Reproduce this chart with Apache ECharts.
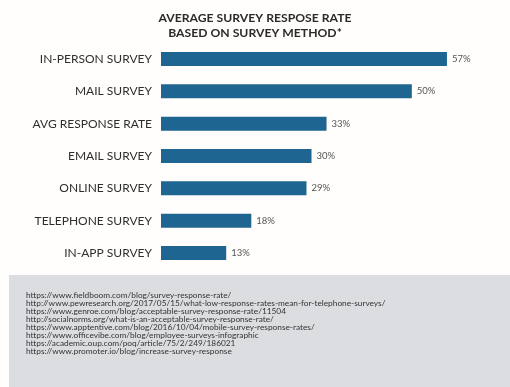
<!DOCTYPE html>
<html><head><meta charset="utf-8">
<script src="https://cdn.jsdelivr.net/npm/echarts@6/dist/echarts.min.js"></script>
<style>html,body{margin:0;padding:0;background:#fffefc;}#c{width:510px;height:387px;}</style>
</head><body><div id="c"></div>
<script>
const categories = ['IN-PERSON SURVEY','MAIL SURVEY','AVG RESPONSE RATE','EMAIL SURVEY','ONLINE SURVEY','TELEPHONE SURVEY','IN-APP SURVEY'];
const values = [57, 50, 33, 30, 29, 18, 13];
const titleLines = ['AVERAGE SURVEY RESPOSE RATE', 'BASED ON SURVEY METHOD*'];
const sources = [
 'https://www.fieldboom.com/blog/survey-response-rate/',
 'http://www.pewresearch.org/2017/05/15/what-low-response-rates-mean-for-telephone-surveys/',
 'https://www.genroe.com/blog/acceptable-survey-response-rate/11504',
 'http://socialnorms.org/what-is-an-acceptable-survey-response-rate/',
 'https://www.apptentive.com/blog/2016/10/04/mobile-survey-response-rates/',
 'https://www.officevibe.com/blog/employee-surveys-infographic',
 'https://academic.oup.com/poq/article/75/2/249/186021',
 'https://www.promoter.io/blog/increase-survey-response'
];
const chart = echarts.init(document.getElementById('c'), null, {renderer:'canvas'});
chart.setOption({
  backgroundColor: '#fffefc',
  animation: false,
  title: {
    text: titleLines.join('\n'),
    left: 'center', top: 6,
    textStyle: {fontFamily: 'Lato', fontSize: 12.2, fontWeight: 'bold', color: '#2a2a2a', lineHeight: 15}
  },
  grid: {left: 161, right: 48, top: 42.8, bottom: 117.8, containLabel: false},
  xAxis: {type: 'value', min: 0, max: 60, show: false},
  yAxis: {
    type: 'category', data: categories, inverse: true,
    axisLine: {show: false}, axisTick: {show: false},
    axisLabel: {margin: 9, fontFamily: 'Lato', fontSize: 12, color: '#2e2e2e'}
  },
  series: [{
    type: 'bar', data: values, barWidth: 14,
    itemStyle: {color: '#1e6591'},
    label: {show: true, position: 'right', distance: 5, formatter: '{c}%', fontFamily: 'Lato', fontSize: 9.5, color: '#555'}
  }],
  graphic: [
    {type: 'rect', shape: {x: 9, y: 275, width: 501, height: 112}, style: {fill: '#dcdde0'}, z: -1},
    {type: 'text', left: 26, top: 291, style: {text: sources.join('\n'), fontFamily: 'Lato', fontSize: 8.3, lineHeight: 8.1, fill: '#333'}}
  ]
});
</script></body></html>
